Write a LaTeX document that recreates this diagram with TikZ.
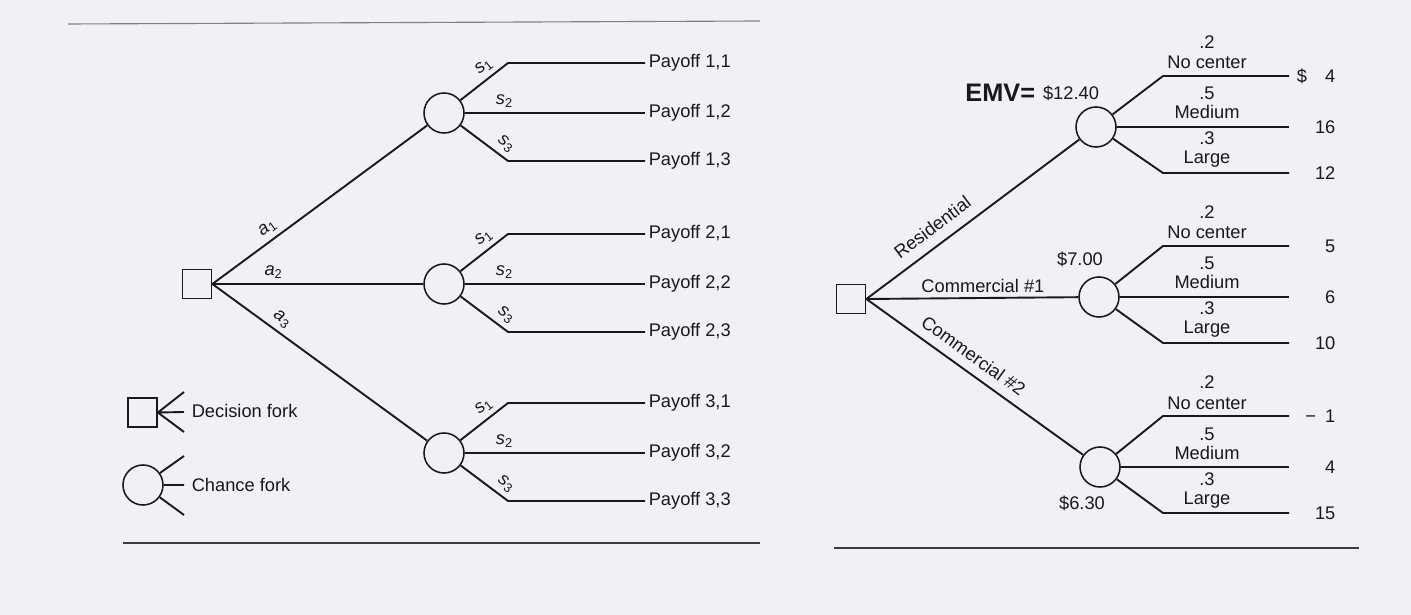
\documentclass[tikz,border=0pt]{standalone}
\usepackage{fontspec}
\setmainfont{Liberation Sans}
\usetikzlibrary{positioning}

\definecolor{paper}{RGB}{239,241,246}
\definecolor{ink}{RGB}{25,25,25}

\begin{document}
\begin{tikzpicture}[x=0.025cm, y=-0.025cm, line width=1.35pt, color=ink,
                    every node/.style={font=\fontsize{13}{14}\selectfont},
                    decision/.style={draw, rectangle, minimum size=0.73cm, inner sep=0pt, line width=1.1pt},
                    chance/.style={draw, circle, minimum size=1cm, inner sep=0pt, line width=1.1pt},
                    payoff/.style={anchor=west, inner sep=2pt},
                    value/.style={anchor=west, text width=1.1cm, align=right, inner sep=1pt},
                    tag/.style={anchor=base, inner sep=0pt},
                    emv/.style={font=\fontsize{18}{20}\selectfont\bfseries, inner sep=2pt},
                    rule/.style={line width=1pt, draw=ink!85}]
  \fill[paper] (0,0) rectangle (1411,615);
  \draw[ink!55, line width=0.8pt] (68,24) -- (760,21);

  % left tree
  \node[decision] (D) at (197,284) {};
  \foreach \n/\y in {1/113,2/284,3/453} {
    \node[chance] (C\n) at (444,\y) {};
    \coordinate (u\n) at (508,\y-50);
    \coordinate (d\n) at (508,\y+48);
    \node[payoff] (p\n1) at (645,\y-50) {Payoff \n,1};
    \node[payoff] (p\n2) at (645,\y) {Payoff \n,2};
    \node[payoff] (p\n3) at (645,\y+48) {Payoff \n,3};
    \path (D.east) edge node[sloped, above, pos=0.29] {\textit{a}\textsubscript{\n}} (C\n);
    \draw (C\n) -- node[sloped, above, pos=0.65] {\textit{s}\textsubscript{1}} (u\n) -- (p\n1.west);
    \draw (C\n) -- node[above, pos=0.22] {\textit{s}\textsubscript{2}} (p\n2.west);
    \draw (C\n) -- node[sloped, above, pos=0.8] {\textit{s}\textsubscript{3}} (d\n) -- (p\n3.west);
  }

  % legend
  \node[decision] (LD) at (142.5,412.5) {};
  \coordinate (ld1) at (184,392);
  \coordinate (ld2) at (184,412);
  \coordinate (ld3) at (184,432);
  \draw (ld1) -- (LD.east) -- (ld3) (LD.east) -- (ld2);
  \node[payoff] (LDt) at (188,411) {Decision fork};
  \node[chance] (LC) at (143,485) {};
  \coordinate (lc1) at (184,456);
  \coordinate (lc2) at (184,485);
  \coordinate (lc3) at (184,515);
  \draw (LC) -- (lc1) (LC) -- (lc2) (LC) -- (lc3);
  \node[payoff] (LCt) at (188,485) {Chance fork};
  \draw[rule] (123,543) -- (760,543);

  % right tree
  \node[decision] (D2) at (851,299) {};
  \node[chance] (R) at (1096,127) {};
  \node[chance] (A) at (1099,297) {};
  \node[chance] (B) at (1100,467) {};
  \path (D2.east) edge node[sloped, above=4pt, pos=0.36] {Residential} (R)
                  edge node[above, pos=0.55] {Commercial \#1} (A)
                  edge node[sloped, above=3pt, pos=0.45] {Commercial \#2} (B);
  \node (emvR) at (1071,93) {\$12.40};
  \node[emv, left=-1pt of emvR] (emvtag) {EMV=};
  \node (emvA) at (1080,259) {\$7.00};
  \node (emvB) at (1082,503) {\$6.30};
  \foreach \k/\y/\va/\vb/\vc in {R/127/{\$\quad4}/16/12, A/297/5/6/10, B/467/{−\enspace1}/4/15} {
    \coordinate (u\k) at (1163,\y-51);
    \coordinate (d\k) at (1163,\y+46);
    \node[value] (w\k1) at (1289,\y-51) {\va};
    \node[value] (w\k2) at (1289,\y) {\vb};
    \node[value] (w\k3) at (1289,\y+46) {\vc};
    \draw (\k) -- (u\k) -- (w\k1.west);
    \draw (\k) -- (w\k2.west);
    \draw (\k) -- (d\k) -- (w\k3.west);
    \node[tag] (q\k1) at (1207,\y-78) {.2};
    \node[tag] (l\k1) at (1207,\y-58) {No center};
    \node[tag] (q\k2) at (1207,\y-27) {.5};
    \node[tag] (l\k2) at (1207,\y-8) {Medium};
    \node[tag] (q\k3) at (1207,\y+18) {.3};
    \node[tag] (l\k3) at (1207,\y+37) {Large};
  }
  \draw[rule] (834,548) -- (1359,548);
\end{tikzpicture}
\end{document}
